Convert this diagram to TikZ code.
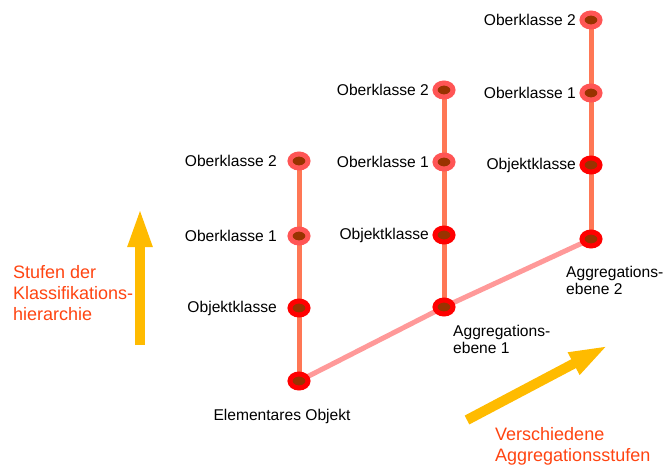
\documentclass[tikz,border=0pt]{standalone}
\usepackage{fontspec}
\setmainfont{Liberation Sans}
\usetikzlibrary{arrows.meta,shapes.geometric}
\definecolor{ringlight}{HTML}{FF5555}
\definecolor{ringdark}{HTML}{FF0000}
\definecolor{core}{HTML}{993300}
\definecolor{stem}{HTML}{FF7755}
\definecolor{aggline}{HTML}{FF9999}
\definecolor{bigarrow}{HTML}{FFBB00}
\definecolor{captext}{HTML}{FF4411}
\tikzset{
  upper/.style={ellipse, draw=ringlight, line width=5pt, fill=core, minimum width=18pt, minimum height=14pt, inner sep=0pt},
  base/.style={ellipse, draw=ringdark, line width=5pt, fill=core, minimum width=18pt, minimum height=14pt, inner sep=0pt},
  lbl/.style={font=\fontsize{15.6}{17}\selectfont, text=black, inner sep=0pt},
  captxt/.style={font=\fontsize{18}{21}\selectfont, text=captext, inner sep=0pt, align=left},
  stemline/.style={draw=stem, line width=5pt},
  aggr/.style={draw=aggline, line width=5pt},
  fat/.style={draw=bigarrow, line width=10pt, -{Triangle[width=22pt,length=40pt]}}
}
\begin{document}
\begin{tikzpicture}[x=1pt,y=-1pt]
\useasboundingbox (0,0) rectangle (664,464);
% column coordinates
\coordinate (a0) at (299,381); \coordinate (a1) at (299,308);
\coordinate (a2) at (299,236); \coordinate (a3) at (299,161);
\coordinate (b0) at (444,307); \coordinate (b1) at (444,235);
\coordinate (b2) at (444,162); \coordinate (b3) at (444,90);
\coordinate (c0) at (591,239); \coordinate (c1) at (591,165);
\coordinate (c2) at (591,93);  \coordinate (c3) at (591,20);
% connecting lines
\draw[aggr] (a0) -- (b0) -- (c0);
\draw[stemline] (a0) -- (a3);
\draw[stemline] (b0) -- (b3);
\draw[stemline] (c0) -- (c3);
% nodes
\node[base] (A0) at (a0) {}; \node[base] (A1) at (a1) {};
\node[upper] (A2) at (a2) {}; \node[upper] (A3) at (a3) {};
\node[base] (B0) at (b0) {}; \node[base] (B1) at (b1) {};
\node[upper] (B2) at (b2) {}; \node[upper] (B3) at (b3) {};
\node[base] (C0) at (c0) {}; \node[base] (C1) at (c1) {};
\node[upper] (C2) at (c2) {}; \node[upper] (C3) at (c3) {};
% labels
\node[lbl, anchor=east] (lA1) at (277,308) {Objektklasse};
\node[lbl, anchor=east] (lA2) at (277,236) {Oberklasse 1};
\node[lbl, anchor=east] (lA3) at (277,161) {Oberklasse 2};
\node[lbl, anchor=east] (lB1) at (429,235) {Objektklasse};
\node[lbl, anchor=east] (lB2) at (429,162) {Oberklasse 1};
\node[lbl, anchor=east] (lB3) at (429,90) {Oberklasse 2};
\node[lbl, anchor=east] (lC1) at (576,165) {Objektklasse};
\node[lbl, anchor=east] (lC2) at (576,93) {Oberklasse 1};
\node[lbl, anchor=east] (lC3) at (576,20) {Oberklasse 2};
\node[lbl] (lA0) at (282,416) {Elementares Objekt};
\node[lbl, anchor=west, align=left] (lB0) at (453,339) {Aggregations-\\ebene 1};
\node[lbl, anchor=west, align=left] (lC0) at (566,280) {Aggregations-\\ebene 2};
% arrows
\coordinate (v0) at (140,345); \coordinate (v1) at (140,207);
\draw[fat] (v0) -- (v1);
\coordinate (d0) at (467,420); \coordinate (d1) at (609,345);
\draw[fat] (d0) -- (d1);
\node[captxt, anchor=west] (capV) at (13,293) {Stufen der\\Klassifikations-\\hierarchie};
\node[captxt, anchor=west] (capD) at (495,446) {Verschiedene\\Aggregationsstufen};
\end{tikzpicture}
\end{document}
